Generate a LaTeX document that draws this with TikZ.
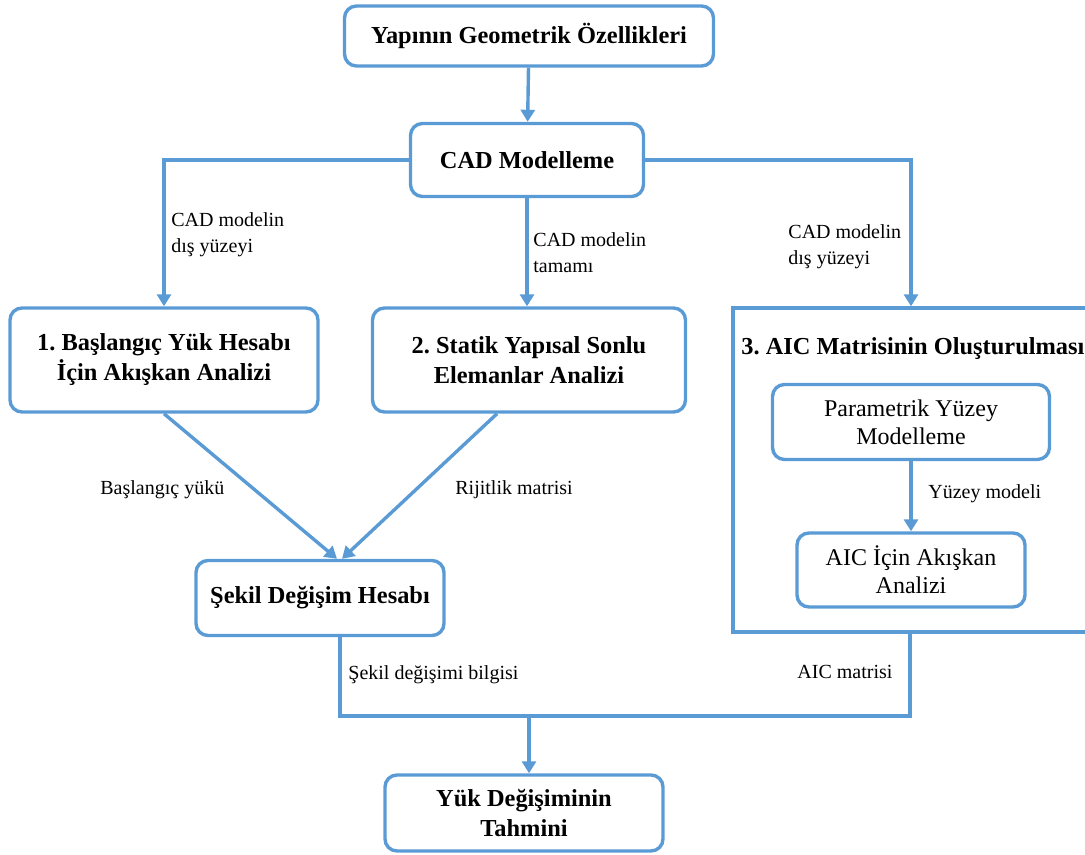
\documentclass[tikz,border=0pt]{standalone}
\usepackage{fontspec}
\setmainfont{Liberation Serif}
\usepackage{xcolor}
\usetikzlibrary{arrows.meta}
\definecolor{flowblue}{HTML}{5B9BD5}
\frenchspacing

\begin{document}
\begin{tikzpicture}[x=0.5pt,y=-0.5pt,>={Triangle[length=6pt,width=7pt]},
  box/.style={draw=flowblue,line width=1.7pt,rounded corners=6pt,fill=white,align=center,inner sep=2pt},
  mainbox/.style={box,font=\fontsize{12.2}{15}\selectfont\bfseries},
  subbox/.style={box,font=\fontsize{12}{14}\selectfont},
  link/.style={draw=flowblue,line width=1.7pt},
  note/.style={anchor=west,align=left,inner sep=0pt,font=\fontsize{10}{13}\selectfont}]
  \useasboundingbox (0,0) rectangle (1085,855);
  % boxes
  \node[mainbox,minimum width=184.5pt,minimum height=30pt] (geo) at (529,36) {Yapının Geometrik Özellikleri};
  \node[mainbox,minimum width=116.5pt,minimum height=36.5pt] (cad) at (527,160) {CAD Modelleme};
  \node[mainbox,minimum width=154pt,minimum height=52pt] (flow) at (164,360) {1. Başlangıç Yük Hesabı\\İçin Akışkan Analizi};
  \node[mainbox,minimum width=156.5pt,minimum height=52pt] (fem) at (529,360) {2. Statik Yapısal Sonlu\\Elemanlar Analizi};
  \node[draw=flowblue,line width=1.7pt,minimum width=178pt,minimum height=162pt,inner sep=0pt] (aicbox) at (911,470) {};
  \node[anchor=west,inner sep=0pt,font=\fontsize{12.2}{15}\selectfont\bfseries] (aictitle) at (741,349) {3. AIC Matrisinin Oluşturulması};
  \node[subbox,minimum width=138.5pt,minimum height=37.5pt] (param) at (911,422) {Parametrik Yüzey\\Modelleme};
  \node[subbox,minimum width=114pt,minimum height=37pt] (aicflow) at (911,570) {AIC İçin Akışkan\\Analizi};
  \node[mainbox,minimum width=124pt,minimum height=37.5pt] (defo) at (320,598) {Şekil Değişim Hesabı};
  \node[mainbox,minimum width=139pt,minimum height=38pt] (pred) at (524,813) {Yük Değişiminin\\Tahmini};
  % connectors
  \draw[link,->] (geo) -- (cad);
  \draw[link,->] (cad.west) -| (flow.north);
  \draw[link,->] (cad.east) -| (aicbox.north);
  \draw[link,->] (cad.south) -- (cad.south |- fem.north);
  \draw[link,->] (param) -- (aicflow);
  \draw[link,->] (flow.south) -- ([xshift=8.5pt]defo.north);
  \draw[link,->] ([xshift=-16pt]fem.south) -- ([xshift=11pt]defo.north);
  \coordinate (mleft) at (340,716);
  \coordinate (mright) at (910,716);
  \coordinate (merge) at (529,716);
  \draw[link] (mleft |- defo.south) -- (mleft) -- (mright) -- (mright |- aicbox.south);
  \draw[link,->] (merge) -- (merge |- pred.north);
  % labels
  \node[note] (n1) at (171,235) {CAD modelin\\dış yüzeyi};
  \node[note] (n2) at (533,253) {CAD modelin\\tamamı};
  \node[note] (n3) at (788,247) {CAD modelin\\dış yüzeyi};
  \node[note] (n4) at (100,490) {Başlangıç yükü};
  \node[note] (n5) at (455,490) {Rijitlik matrisi};
  \node[note] (n6) at (928,494) {Yüzey modeli};
  \node[note] (n7) at (348,675) {Şekil değişimi bilgisi};
  \node[note] (n8) at (797,672) {AIC matrisi};
\end{tikzpicture}
\end{document}
